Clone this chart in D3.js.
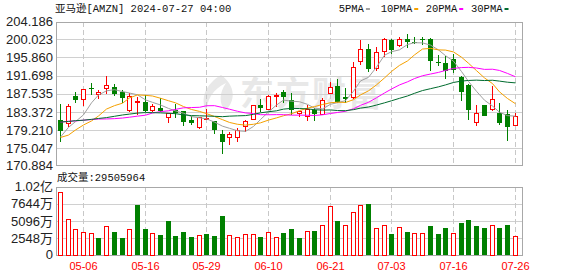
<!DOCTYPE html>
<html>
<head>
<meta charset="utf-8">
<script src="https://cdn.jsdelivr.net/npm/d3@7"></script>
<style>
  body { margin: 0; background: #fff; }
  svg { display: block; }
</style>
</head>
<body>
<div id="kline"></div>
<script>
// trading days shown (MM-DD)
const dates = ["05-01","05-02","05-03","05-06","05-07","05-08","05-09","05-10","05-13","05-14","05-15","05-16","05-17","05-20","05-21","05-22","05-23","05-24","05-28","05-29","05-30","05-31",
  "06-03","06-04","06-05","06-06","06-07","06-10","06-11","06-12","06-13","06-14","06-17","06-18","06-20","06-21","06-24","06-25","06-26","06-27","06-28",
  "07-01","07-02","07-03","07-05","07-08","07-09","07-10","07-11","07-12","07-15","07-16","07-17","07-18","07-19","07-22","07-23","07-24","07-25","07-26"];

const open  = [181.64,180.85,186.99,186.28,188.92,187.44,188.88,189.16,188.00,183.82,185.97,185.60,183.76,184.34,182.30,183.88,183.66,181.65,179.93,181.70,181.31,178.30,
  177.70,177.64,180.10,181.75,184.90,184.07,187.06,188.02,186.09,183.08,182.52,183.74,182.91,187.80,189.33,186.81,186.92,195.01,197.73,
  193.49,197.28,199.94,198.65,200.04,199.40,199.99,200.09,194.80,194.56,195.59,191.35,189.59,181.14,185.00,184.10,183.20,182.91,180.39];
const high  = [185.15,185.10,187.87,188.75,189.94,188.43,191.70,189.89,188.31,187.72,186.72,187.31,185.30,186.67,183.26,185.22,183.66,182.44,182.24,184.08,181.34,179.21,
  178.70,179.82,181.50,185.00,186.29,187.23,187.77,188.35,187.67,183.72,185.00,184.29,186.51,190.28,191.00,188.84,194.80,199.84,198.85,
  198.30,200.43,200.03,200.55,201.20,200.57,200.62,200.27,196.47,196.19,196.62,191.58,189.68,184.93,185.06,189.39,185.45,183.90,183.19];
const low   = [176.56,179.91,185.42,184.80,187.31,186.39,187.44,186.93,185.36,183.45,182.73,183.46,183.35,183.28,180.75,181.97,180.20,180.30,179.49,181.55,178.36,173.87,
  175.92,176.44,178.75,181.49,183.36,183.79,184.54,185.43,182.67,182.23,181.22,181.43,182.72,187.52,185.33,185.42,186.26,194.20,192.50,
  192.82,195.93,196.76,198.17,197.96,199.05,198.80,192.86,193.83,190.83,192.24,185.99,181.45,180.11,182.48,183.56,180.41,176.80,180.24];
const close = [179.00,184.72,186.21,188.70,188.76,188.00,189.50,187.48,186.57,187.07,185.99,183.63,184.70,183.54,183.15,183.13,181.05,180.75,182.15,182.02,179.32,176.44,
  178.34,179.34,181.28,185.00,184.30,187.06,187.23,186.89,183.83,183.66,184.06,182.81,186.10,189.08,185.57,186.34,193.61,197.85,193.25,
  197.20,200.00,197.59,200.00,199.29,199.34,199.79,195.05,194.49,192.72,193.02,187.93,183.75,183.13,182.55,186.41,180.83,179.85,182.50];
const prevClose = 175.00;

// volume in 万 shares
const volume = [9460,5430,3920,3470,3400,2630,4340,3410,2610,3890,7550,3930,3320,3030,5080,2890,3420,2770,3080,3200,2920,5890,
  3080,2720,3210,3140,2800,3450,2730,3340,3960,2540,3560,3660,4470,7290,5060,4530,6510,7440,7690,
  4120,4560,3160,4180,3480,3270,3260,4420,3150,4010,3380,4850,5190,4310,4000,4560,4100,4450,2950.5964];

const ma5  = [177.65,179.86,181.18,182.73,185.48,187.28,188.23,188.49,188.06,187.72,187.32,186.15,185.59,184.99,184.20,183.63,183.11,182.32,182.05,181.82,181.06,180.14,
  179.65,179.09,178.94,180.08,181.65,183.40,184.97,186.10,185.86,185.73,185.13,184.25,184.09,185.14,185.52,185.98,188.14,190.49,191.32,
  193.65,196.38,197.18,197.61,198.82,199.24,199.20,198.69,197.59,196.28,195.01,192.64,190.38,188.11,186.08,184.75,183.33,182.55,182.43];
const ma10 = [177.55,178.10,179.26,180.41,181.33,182.47,184.05,184.84,185.40,186.60,187.30,187.19,187.04,186.53,185.96,185.48,184.63,183.96,183.52,183.01,182.35,181.63,
  180.99,180.57,180.38,180.57,180.90,181.53,182.03,182.52,182.97,183.69,184.27,184.61,185.10,185.50,185.63,185.56,186.20,187.29,188.23,
  189.59,191.18,192.66,194.05,195.07,196.45,197.79,197.94,197.60,197.55,197.13,195.92,194.54,192.85,191.18,189.88,187.99,186.47,185.27];
const ma20 = [181.04,181.28,181.33,181.51,181.66,181.77,181.79,181.86,182.00,182.19,182.43,182.65,183.15,183.47,183.65,183.98,184.34,184.40,184.46,184.81,184.83,184.41,
  184.02,183.55,183.17,183.03,182.77,182.75,182.78,182.77,182.66,182.66,182.63,182.59,182.74,183.04,183.27,183.55,184.12,184.91,185.60,
  186.64,187.73,188.64,189.58,190.29,191.04,191.68,192.07,192.45,192.89,193.36,193.55,193.60,193.45,193.13,193.17,192.89,192.21,191.44];
const ma30 = [181.10,181.20,181.40,181.50,181.70,181.90,182.10,182.40,182.70,182.90,183.13,183.25,183.23,183.18,183.09,183.00,182.73,182.56,182.51,182.46,182.40,182.31,
  182.43,182.50,182.56,182.84,183.19,183.44,183.65,184.04,184.21,184.17,184.10,183.90,183.81,183.85,183.72,183.68,183.92,184.27,184.52,
  184.97,185.48,185.95,186.51,187.05,187.66,188.29,188.72,189.14,189.58,190.14,190.46,190.60,190.67,190.58,190.65,190.45,190.20,190.05];

const priceTicks = [170.884,175.047,179.210,183.372,187.535,191.698,195.860,200.023,204.186];
const volTicks = [0,2548,5096,7644,10192];
const volTickLabels = ["0","2548万","5096万","7644万","1.02亿"];
const dateTicks = ["05-06","05-16","05-29","06-10","06-21","07-03","07-16","07-26"];

const maNames = ["5PMA","10PMA","20PMA","30PMA"];
const maColors = ["#a0a0a0","#f5a100","#ff00ff","#006b2e"];

const W = 578, H = 276;
const plot = {left:56, right:522},
    price = {top:22, bottom:165},
    vol = {top:187, bottom:255};

const RED = "#ff0000", GREEN = "#008000";
const monoFont = "'Liberation Mono','Noto Sans CJK SC',monospace";
const axisFont = "'Liberation Sans','Noto Sans CJK SC',sans-serif";

const svg = d3.select("#kline").append("svg")
    .attr("width", W)
    .attr("height", H);

const x = d3.scaleBand()
    .domain(dates)
    .range([56, 518.5]);
const cx = d => Math.round(x(d) + x.bandwidth() / 2);

const y = d3.scaleLinear()
    .domain([170.884, 204.186])
    .range([166.6, 21.1]);

const yv = d3.scaleLinear()
    .domain([0, 10192])
    .range([255.5, 186.7]);

// watermark
const wm = svg.append("g").attr("fill", "#e8e8e8");
wm.append("path")
    .attr("d", "M221,75 C206,84 199,98 207,113 C206,100 213,89 226,83 C219,93 219,103 225,111 C236,101 236,86 221,75 Z");
wm.append("text")
    .attr("x", 240).attr("y", 106)
    .style("font-family", "'Noto Sans CJK SC',sans-serif")
    .style("font-size", "34px")
    .style("font-weight", "bold")
    .style("letter-spacing", "2px")
    .text("东方财富");

// grids
const grid = svg.append("g").attr("shape-rendering", "crispEdges");
grid.selectAll("line.hp")
    .data(priceTicks.slice(1, -1))
    .enter().append("line")
    .attr("x1", plot.left).attr("x2", plot.right)
    .attr("y1", d => Math.round(y(d)) + 0.5).attr("y2", d => Math.round(y(d)) + 0.5)
    .attr("stroke", "#d0d0d0");
grid.selectAll("line.hv")
    .data(volTicks.slice(1, -1))
    .enter().append("line")
    .attr("x1", plot.left).attr("x2", plot.right)
    .attr("y1", d => Math.round(yv(d)) + 0.5).attr("y2", d => Math.round(yv(d)) + 0.5)
    .attr("stroke", "#d0d0d0");
[price, vol].forEach(p => {
    grid.selectAll(null)
        .data(dateTicks)
        .enter().append("line")
        .attr("x1", d => cx(d) + 0.5).attr("x2", d => cx(d) + 0.5)
        .attr("y1", p.top).attr("y2", p.bottom)
        .attr("stroke", "#c8c8c8")
        .attr("stroke-dasharray", "5,3");
    grid.append("rect")
        .attr("x", plot.left + 0.5).attr("y", p.top + 0.5)
        .attr("width", plot.right - plot.left).attr("height", p.bottom - p.top)
        .attr("fill", "none")
        .attr("stroke", "#a8a8a8");
});

// candles
const candles = svg.append("g").attr("shape-rendering", "crispEdges");
dates.forEach((d, i) => {
    const c = cx(d);
    const up = close[i] > open[i];
    const col = up ? RED : GREEN;
    const top = Math.round(y(Math.max(open[i], close[i])));
    const bot = Math.round(y(Math.min(open[i], close[i])));
    candles.append("line")
        .attr("x1", c + 0.5).attr("x2", c + 0.5)
        .attr("y1", y(high[i])).attr("y2", y(low[i]))
        .attr("stroke", col);
    if (up) {
        candles.append("rect")
            .attr("x", c - 1.5).attr("y", top + 0.5)
            .attr("width", 4).attr("height", Math.max(bot - top, 1))
            .attr("fill", "#fff").attr("stroke", col);
    } else {
        candles.append("rect")
            .attr("x", c - 2).attr("y", top)
            .attr("width", 5).attr("height", Math.max(bot - top, 1))
            .attr("fill", col);
    }
});

// moving averages
[ma5, ma10, ma20, ma30].forEach((arr, k) => {
    svg.append("path")
        .datum(arr)
        .attr("fill", "none")
        .attr("stroke", maColors[k])
        .attr("stroke-width", 1)
        .attr("d", d3.line().x((v, i) => cx(dates[i]) + 0.5).y(v => y(v)));
});

// volume bars, colour follows close vs previous close
const bars = svg.append("g").attr("shape-rendering", "crispEdges");
dates.forEach((d, i) => {
    const c = cx(d);
    const up = close[i] >= (i ? close[i - 1] : prevClose);
    const top = Math.round(yv(volume[i]));
    if (up) {
        bars.append("rect")
            .attr("x", c - 1.5).attr("y", top + 0.5)
            .attr("width", 4).attr("height", vol.bottom - top - 0.5)
            .attr("fill", "#fff").attr("stroke", RED);
    } else {
        bars.append("rect")
            .attr("x", c - 2).attr("y", top)
            .attr("width", 5).attr("height", vol.bottom - top)
            .attr("fill", GREEN);
    }
});

// axis labels
svg.append("g").selectAll("text")
    .data(priceTicks)
    .enter().append("text")
    .attr("x", 53)
    .attr("y", d => Math.min(y(d), 165))
    .attr("text-anchor", "end")
    .attr("dominant-baseline", "central")
    .style("font-family", axisFont)
    .style("font-size", "13px")
    .attr("fill", "#222")
    .text(d => d.toFixed(3));

svg.append("g").selectAll("text")
    .data(volTicks)
    .enter().append("text")
    .attr("x", 53)
    .attr("y", d => Math.min(yv(d), 254))
    .attr("text-anchor", "end")
    .attr("dominant-baseline", "central")
    .style("font-family", axisFont)
    .style("font-size", "13px")
    .attr("fill", "#222")
    .text((d, i) => volTickLabels[i]);

svg.append("g").selectAll("text")
    .data(dateTicks)
    .enter().append("text")
    .attr("x", d => cx(d) + 0.5)
    .attr("y", 266)
    .attr("text-anchor", "middle")
    .attr("dominant-baseline", "central")
    .style("font-family", axisFont)
    .style("font-size", "11px")
    .attr("fill", RED)
    .text(d => d);

// title, volume caption
svg.append("text")
    .attr("x", 55).attr("y", 9)
    .attr("dominant-baseline", "central")
    .style("font-family", monoFont)
    .style("font-size", "10.5px")
    .attr("fill", "#111")
    .text("亚马逊[AMZN] 2024-07-27 04:00");

svg.append("text")
    .attr("x", 57).attr("y", 178)
    .attr("dominant-baseline", "central")
    .style("font-family", monoFont)
    .style("font-size", "10.5px")
    .attr("fill", "#111")
    .text("成交量:" + Math.round(volume[volume.length - 1] * 10000));

// legend
const legendX = [338.7, 380.7, 425.7, 471];
const legend = svg.append("g");
maNames.forEach((name, k) => {
    const t = legend.append("text")
        .attr("x", legendX[k]).attr("y", 9)
        .attr("dominant-baseline", "central")
        .style("font-family", monoFont)
        .style("font-size", "10.5px")
        .attr("fill", "#111")
        .text(name);
    const w = t.node().getComputedTextLength();
    legend.append("rect")
        .attr("x", legendX[k] + w + 2).attr("y", 8)
        .attr("width", 4).attr("height", 2)
        .attr("fill", maColors[k]);
});
</script>
</body>
</html>
